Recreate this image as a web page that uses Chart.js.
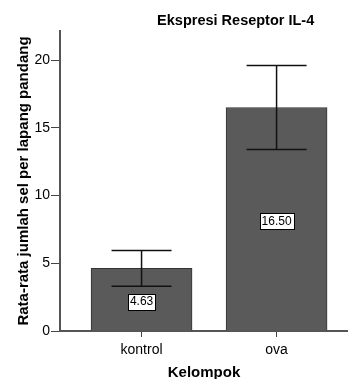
<!DOCTYPE html>
<html>
<head>
<meta charset="utf-8">
<script src="https://cdn.jsdelivr.net/npm/chart.js@4.4.0/dist/chart.umd.min.js"></script>
<style>
body{margin:0;background:#fff;}
#c{display:block;}
</style>
</head>
<body>
<canvas id="c" width="348" height="379"></canvas>
<script>
var chartTitle = 'Ekspresi Reseptor IL-4';
var categories = ['kontrol', 'ova'];
var means = [4.63, 16.50];
var errLow = [3.30, 13.40];//batas bawah error bar
var errHigh = [5.95, 19.60];//batas atas error bar
var yTicks = [0, 5, 10, 15, 20];
var xTitle = 'Kelompok';
var yTitle = 'Rata-rata jumlah sel per lapang pandang';

var FONT = "'Liberation Sans', Arial, sans-serif";

var points = [];
for (var i = 0; i < categories.length; i++) {
    points.push({x: i, y: means[i]});
}

var extras = {//judul, error bar, label nilai
    id: 'extras',
    afterDatasetsDraw: function(chart) {
        var ctx = chart.ctx;
        var xs = chart.scales.x;
        var ys = chart.scales.y;
        var area = chart.chartArea;
        ctx.save();

        // error bars
        ctx.strokeStyle = '#111';
        ctx.lineWidth = 1.5;
        for (var i = 0; i < means.length; i++) {
            var cx = xs.getPixelForValue(i);
            var yh = ys.getPixelForValue(errHigh[i]);
            var yl = ys.getPixelForValue(errLow[i]);
            ctx.beginPath();
            ctx.moveTo(cx, yh); ctx.lineTo(cx, yl);
            ctx.moveTo(cx - 30, yh); ctx.lineTo(cx + 30, yh);
            ctx.moveTo(cx - 30, yl); ctx.lineTo(cx + 30, yl);
            ctx.stroke();
        }

        // value labels
        ctx.font = '12px ' + FONT;
        ctx.textAlign = 'center';
        ctx.textBaseline = 'middle';
        for (var j = 0; j < means.length; j++) {
            var bx = xs.getPixelForValue(j);
            var by = (ys.getPixelForValue(0) + ys.getPixelForValue(means[j])) / 2 + 2;
            var txt = means[j].toFixed(2);
            var w = ctx.measureText(txt).width + 4;
            ctx.fillStyle = '#fff';
            ctx.fillRect(Math.round(bx - w / 2) + 0.5, Math.round(by - 8) + 0.5, Math.round(w), 16);
            ctx.strokeStyle = '#000';
            ctx.lineWidth = 1;
            ctx.strokeRect(Math.round(bx - w / 2) + 0.5, Math.round(by - 8) + 0.5, Math.round(w), 16);
            ctx.fillStyle = '#000';
            ctx.fillText(txt, bx, by + 0.5);
        }

        // title
        ctx.font = 'bold 14.5px ' + FONT;
        ctx.fillStyle = '#000';
        ctx.fillText(chartTitle, area.left + (area.right - area.left) * 0.61, 21);
        ctx.restore();
    }
};

var chart = new Chart(document.getElementById('c').getContext('2d'), {
    type: 'bar',
    data: {
        datasets: [{
            data: points,
            backgroundColor: '#5a5a5a',
            borderColor: '#333',
            borderWidth: 1,
            barThickness: 101
        }]
    },
    options: {
        responsive: false,
        animation: false,
        layout: {padding: {top: 31, right: 0, left: 0, bottom: 0}},
        plugins: {
            legend: {display: false},
            tooltip: {enabled: false}
        },
        scales: {
            x: {
                type: 'linear',
                offset: false,
                min: -0.604,
                max: 1.529,
                afterBuildTicks: function(scale) {
                    scale.ticks = categories.map(function(c, i) { return {value: i}; });
                },
                afterFit: function(scale) { scale.height = 48; },
                grid: {
                    offset: false,
                    drawOnChartArea: false,
                    drawTicks: true,
                    tickLength: 6,
                    color: '#444'
                },
                border: {display: true, color: '#555', width: 2},
                ticks: {
                    color: '#000',
                    padding: 5,
                    font: {family: FONT, size: 14},
                    callback: function(v) { return categories[v]; }
                },
                title: {
                    display: true,
                    text: xTitle,
                    color: '#000',
                    padding: {top: 0, bottom: 0},
                    font: {family: FONT, size: 15, weight: 'bold', lineHeight: 0.8}
                }
            },
            y: {
                min: 0,
                max: 22.15,
                afterBuildTicks: function(scale) {
                    scale.ticks = yTicks.map(function(v) { return {value: v}; });
                },
                afterFit: function(scale) { scale.width = 60; },
                grid: {
                    drawOnChartArea: false,
                    drawTicks: true,
                    tickLength: 9,
                    color: '#444'
                },
                border: {display: true, color: '#555', width: 2},
                ticks: {
                    color: '#000',
                    padding: 1,
                    font: {family: FONT, size: 14}
                },
                title: {
                    display: true,
                    text: yTitle,
                    color: '#000',
                    padding: {top: 15, bottom: 0},
                    font: {family: FONT, size: 15, weight: 'bold'}
                }
            }
        }
    },
    plugins: [extras]
});
</script>
</body>
</html>
